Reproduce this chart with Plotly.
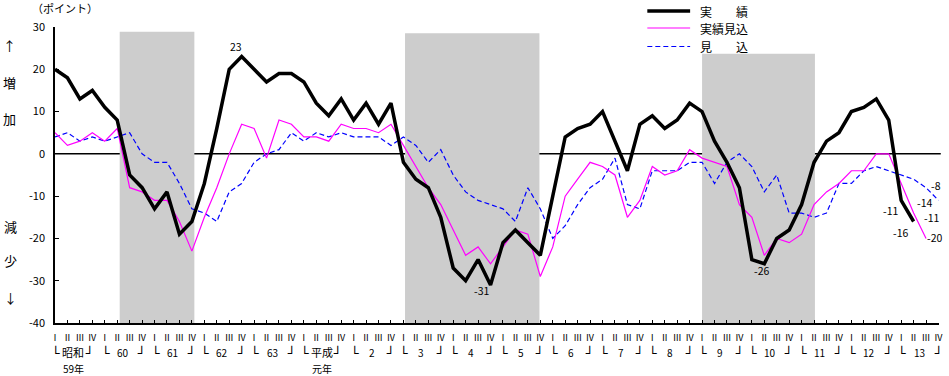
import plotly.graph_objects as go

# ---------------- data ----------------
quarters = list(range(72))  # 昭和59 I ... 平成13 IV
quarter_names = ["Ⅰ", "Ⅱ", "Ⅲ", "Ⅳ"] * 18
years = ["昭和", "60", "61", "62", "63", "平成", "2", "3", "4", "5", "6", "7",
         "8", "9", "10", "11", "12", "13"]
year_sub = {0: "59年", 5: "元年"}

actual = [20, 18, 13, 15, 11, 8, -5, -8, -13, -9, -19, -16, -7, 6, 20, 23, 20, 17,
          19, 19, 17, 12, 9, 13, 8, 12, 7, 12, -2, -6, -8, -15, -27, -30, -25, -31,
          -21, -18, -21, -24, -10, 4, 6, 7, 10, 3, -4, 7, 9, 6, 8, 12, 10, 3, -2, -8,
          -25, -26, -20, -18, -12, -2, 3, 5, 10, 11, 13, 8, -11, -16, None, None]
estimate = [5, 2, 3, 5, 3, 6, -8, -9, -11, -11, -16, -23, -15, -8, 0, 7, 6, -1,
            8, 7, 4, 4, 3, 7, 6, 6, 5, 7, 2, -3, -8, -12, -18, -24, -22, -26,
            -22, -18, -19, -29, -22, -10, -6, -2, -3, -5, -15, -11, -3, -5, -4, 1, -1, -2,
            -3, -12, -15, -24, -20, -21, -19, -12, -9, -7, -4, -4, 0, 0, -7, -14, -20, None]
forecast = [4, 5, 3, 4, 3, 4, 5, 0, -2, -2, -7, -13, -14, -16, -9, -7, -2, 0,
            1, 5, 3, 5, 4, 5, 4, 4, 4, 2, 4, 2, -2, 1, -5, -9, -11, -12,
            -13, -16, -8, -13, -20, -17, -12, -8, -6, -1, -12, -13, -4, -4, -4, -2, -2, -7,
            -2, 0, -3, -9, -5, -14, -14, -15, -14, -7, -7, -4, -3, -4, -5, -6, -8, -11]

shade_start = [5.2, 28.13, 52.0]
shade_end = [11.2, 38.93, 61.07]
shade_top = [28.9, 28.5, 23.7]

y_ticks = [30, 20, 10, 0, -10, -20, -30, -40]

# value labels: (index, series, text, xshift, yshift, xanchor)
value_labels = [
    (15, "actual", "23", -6, 10, "center"),
    (35, "actual", "-31", -9, -6, "center"),
    (57, "actual", "-26", -3, -7, "center"),
    (68, "actual", "-11", -11, -10, "center"),
    (69, "actual", "-16", -13, -11, "center"),
    (69, "estimate", "-14", 11, 11, "center"),
    (70, "estimate", "-20", -1, 1, "left"),
    (70, "forecast", "-8", 3, 2, "left"),
    (71, "forecast", "-11", -7, -17, "center"),
]

FONT = "Noto Sans CJK JP"
BOXFONT = "DejaVu Sans Mono"
series = {"actual": actual, "estimate": estimate, "forecast": forecast}

fig = go.Figure()

fig.add_trace(go.Scatter(x=quarters, y=forecast, mode="lines",
                         line=dict(color="#0000ff", width=1.2, dash="5px,3px"),
                         showlegend=False))
fig.add_trace(go.Scatter(x=quarters, y=estimate, mode="lines",
                         line=dict(color="#ff00ff", width=1.2),
                         showlegend=False))
fig.add_trace(go.Scatter(x=quarters, y=actual, mode="lines",
                         line=dict(color="#000000", width=3.5),
                         showlegend=False))

shapes = []
for s, e, t in zip(shade_start, shade_end, shade_top):
    shapes.append(dict(type="rect", xref="x", yref="y", x0=s, x1=e, y0=-40, y1=t,
                       fillcolor="#cdcdcd", line=dict(width=0), layer="below"))
shapes.append(dict(type="line", xref="paper", yref="y", x0=0, x1=1.002, y0=0, y1=0,
                   line=dict(color="black", width=1.5), layer="below"))

# plot area geometry (pixels) for paper conversions
L, T, W, H = 55, 27, 888, 296
def px(X):
    return (X - L) / W
def py(Y):
    return (T + H - Y) / H

# legend
leg = [("実　　績", dict(color="black", width=3.5), 11),
       ("実績見込", dict(color="#ff00ff", width=1.2), 28),
       ("見　　込", dict(color="#0000ff", width=1.2, dash="5px,3px"), 46.5)]
annotations = []
for txt, ln, Y in leg:
    shapes.append(dict(type="line", xref="paper", yref="paper", x0=px(650), x1=px(693),
                       y0=py(Y), y1=py(Y), line=ln))
    annotations.append(dict(xref="paper", yref="paper", x=px(701), y=py(Y), text=txt,
                            showarrow=False, xanchor="left", yanchor="middle",
                            font=dict(family=FONT, size=12, color="black")))

# left side labels
side = [("（ポイント）", 65, 8, 11), ("↑", 9, 45, 13), ("増", 9, 82, 13), ("加", 9, 118, 13),
        ("減", 10, 226, 13), ("少", 10, 260, 13), ("↓", 10, 297, 13)]
for txt, X, Y, sz in side:
    annotations.append(dict(xref="paper", yref="paper", x=px(X), y=py(Y), text=txt,
                            showarrow=False, xanchor="center", yanchor="middle",
                            font=dict(family=FONT, size=sz, color="black")))

# year brackets
for k, name in enumerate(years):
    x0 = 4 * k
    kanji = not name.isdigit()
    annotations.append(dict(xref="x", yref="paper", x=x0, y=py(353), text="└", xshift=1,
                            showarrow=False, xanchor="center", yanchor="middle",
                            font=dict(family=BOXFONT, size=13, color="black")))
    annotations.append(dict(xref="x", yref="paper", x=x0, y=py(352), text=name, xshift=18,
                            showarrow=False, xanchor="center", yanchor="middle",
                            font=dict(family=FONT, size=11 if kanji else 10, color="black")))
    annotations.append(dict(xref="x", yref="paper", x=x0, y=py(353), text="┘",
                            xshift=34 if kanji else 37,
                            showarrow=False, xanchor="center", yanchor="middle",
                            font=dict(family=BOXFONT, size=13, color="black")))
    if k in year_sub:
        annotations.append(dict(xref="x", yref="paper", x=x0, y=py(368), text=year_sub[k],
                                xshift=18, showarrow=False, xanchor="center", yanchor="middle",
                                font=dict(family=FONT, size=10, color="black")))

for idx, key, txt, xs, ys, xa in value_labels:
    annotations.append(dict(xref="x", yref="y", x=idx, y=series[key][idx], text=txt,
                            xshift=xs, yshift=ys, showarrow=False, xanchor=xa,
                            yanchor="middle",
                            font=dict(family=FONT, size=10.5, color="black")))

fig.update_layout(
    width=949, height=376,
    margin=dict(l=L, r=949 - L - W, t=T, b=376 - T - H),
    paper_bgcolor="white", plot_bgcolor="white",
    shapes=shapes, annotations=annotations, showlegend=False,
    font=dict(family=FONT, size=11, color="black"),
)
fig.update_xaxes(range=[0, W / 12.5], tickvals=quarters, ticktext=quarter_names,
                 ticks="inside", ticklen=3, tickcolor="black", showgrid=False,
                 zeroline=False, showline=True, linecolor="black", linewidth=1.5,
                 tickfont=dict(family=FONT, size=9, color="black"), ticklabelstandoff=5)
fig.update_yaxes(range=[-40, 30], tickvals=y_ticks, ticktext=[str(v) for v in y_ticks],
                 ticks="inside", ticklen=4, tickcolor="black", showgrid=False,
                 zeroline=False, showline=True, linecolor="black", linewidth=1.5,
                 tickfont=dict(family=FONT, size=11, color="black"), ticklabelstandoff=6)

fig.write_html("out.html", config={"displayModeBar": False},
               post_script="document.body.style.margin='0';document.body.style.overflow='hidden';")
